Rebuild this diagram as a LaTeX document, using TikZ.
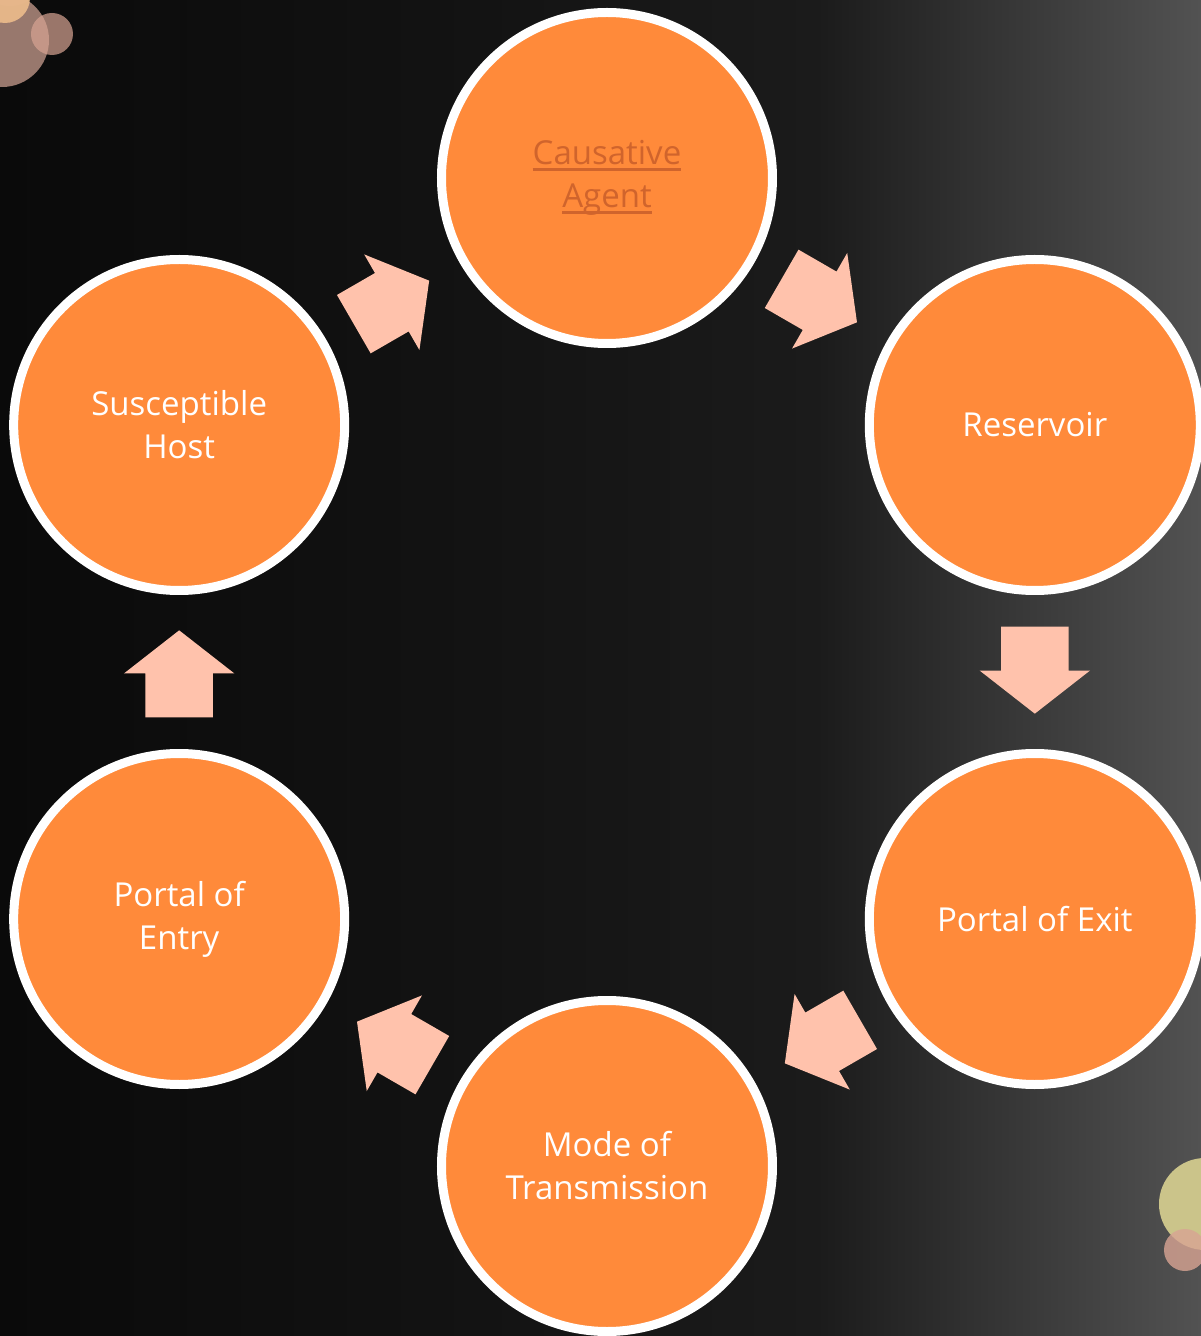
\documentclass[tikz,border=0pt]{standalone}
\usepackage{fontspec}
\setmainfont{Open Sans}
\usepackage{tikz}
\usetikzlibrary{calc, shapes.arrows}

\definecolor{stageorange}{HTML}{FF8A3A}
\definecolor{linkorange}{HTML}{D0642C}
\definecolor{arrowpink}{HTML}{FFC2AC}
\definecolor{bgdark}{HTML}{0A0A0A}
\definecolor{bgmid}{HTML}{131313}
\definecolor{bgedge}{HTML}{1B1B1B}
\definecolor{bglight}{HTML}{525252}
\definecolor{bubblepink}{HTML}{A88478}
\definecolor{bubblepeach}{HTML}{EDBC8C}
\definecolor{bubbleolive}{HTML}{CBC48A}
\definecolor{bubblerose}{HTML}{D8A493}

\pgfdeclarehorizontalshading{backdrop}{100bp}{color(0bp)=(bgdark); color(25bp)=(bgdark);
  color(45bp)=(bgmid); color(59bp)=(bgedge); color(75bp)=(bglight); color(100bp)=(bglight)}

% underlined link text
\newcommand{\agentlink}[1]{{\setbox0\hbox{#1}\rlap{\rule[-6pt]{\wd0}{2.5pt}}\box0}}

\begin{document}
\begin{tikzpicture}
  [
    x = 1pt, y = 1pt,
    every node/.style = {inner sep = 0pt},
    stage/.style = {circle, draw = white, line width = 9pt, fill = stageorange,
      minimum size = 331pt, text = white, align = center,
      font = \fontsize{33}{43}\selectfont},
    flow/.style = {single arrow, fill = arrowpink, draw = none,
      inner xsep = 0pt, inner ysep = 33.5pt, minimum height = 87pt,
      single arrow head extend = 21.5pt, single arrow head indent = 0pt,
      single arrow tip angle = 104},
    bubble/.style = {circle, draw = none}
  ]
  % background
  \useasboundingbox (-607,-664) rectangle (594,672);
  \shade [shading = backdrop] (-607,-664) rectangle (594,672);

  % corner bubbles
  \fill [bubbleolive, opacity = 0.9] (-597,700) circle (34);
  \fill [bubblepink, opacity = 0.9] (-605,632) circle (47);
  \fill [bubblepeach, opacity = 0.9] (-602,674) circle (25);
  \fill [bubblerose, opacity = 0.7] (-555,638) circle (21);
  \fill [bubbleolive] (598,-532) circle (46);
  \fill [bubblerose, opacity = 0.8] (578,-578) circle (21);

  % stages of the chain
  \node [stage] (Agent)     at (90:494)   {\color{linkorange}\agentlink{Causative}\\
                                            \color{linkorange}\agentlink{Agent}};
  \node [stage] (Reservoir) at (30:494)   {Reservoir};
  \node [stage] (Exit)      at (-30:494)  {Portal of Exit};
  \node [stage] (Mode)      at (-90:494)  {Mode of\\Transmission};
  \node [stage] (Entry)     at (-150:494) {Portal of\\Entry};
  \node [stage] (Host)      at (150:494)  {Susceptible\\Host};

  % arrows between stages
  \node [flow, rotate = -30, xshift = -15pt]  (AgentOut) at ($(Agent)!.5!(Reservoir)$) {};
  \node [flow, rotate = -90, xshift = -15pt]  (ResOut)   at ($(Reservoir)!.5!(Exit)$)  {};
  \node [flow, rotate = -150, xshift = -15pt] (ExitOut)  at ($(Exit)!.5!(Mode)$)       {};
  \node [flow, rotate = 150, xshift = -15pt]  (ModeOut)  at ($(Mode)!.5!(Entry)$)      {};
  \node [flow, rotate = 90, xshift = -15pt]   (EntryOut) at ($(Entry)!.5!(Host)$)      {};
  \node [flow, rotate = 30, xshift = -15pt]   (HostOut)  at ($(Host)!.5!(Agent)$)      {};
\end{tikzpicture}
\end{document}
